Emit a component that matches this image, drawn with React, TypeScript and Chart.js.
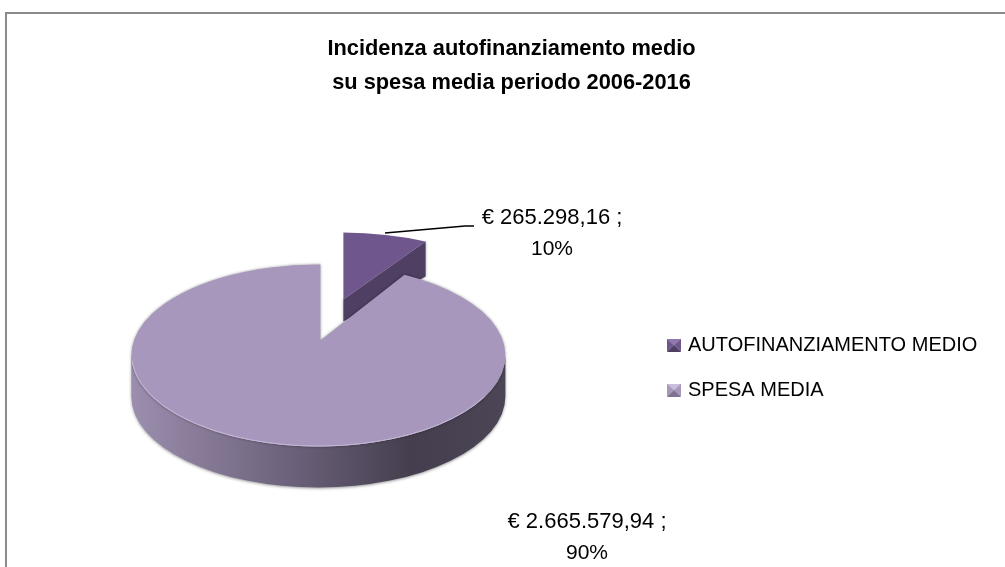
import React, { useEffect, useRef } from "react";
import { Chart, registerables } from "chart.js";

Chart.register(...registerables);

const categories = ["AUTOFINANZIAMENTO MEDIO", "SPESA MEDIA"];
const values = [265298.16, 2665579.94];
const valueLabels = ["€ 265.298,16 ;", "€ 2.665.579,94 ;"];
const percentLabels = ["10%", "90%"];
const titleLines = ["Incidenza autofinanziamento medio", "su spesa media periodo 2006-2016"];

const faceColors = ["#6f578e", "#a797bc"];
const FONT = "'Liberation Sans', Arial, sans-serif";

// projection of each slice of the tilted pie
const slices = [
  { dx: 23, dy: -41, ex: -2, ey: 13, rx: 182, ry: 80, k: 0.45, depthA: 22, depthB: 35 },
  { dx: 0, dy: 0, ex: -2, ey: 15, rx: 187, ry: 91, k: 0.5, depthA: 41, depthB: 41 },
];
const labelPositions = [
  { x: 552, y: 218 },
  { x: 587, y: 522 },
];

function marker(light: string, base: string, dark: string) {
  const c = document.createElement("canvas");
  c.width = 14;
  c.height = 13;
  const g = c.getContext("2d")!;
  const tri = (pts: number[], col: string) => {
    g.fillStyle = col;
    g.beginPath();
    g.moveTo(pts[0], pts[1]);
    g.lineTo(pts[2], pts[3]);
    g.lineTo(7, 6.5);
    g.closePath();
    g.fill();
  };
  tri([0, 0, 14, 0], light);
  tri([0, 0, 0, 13], base);
  tri([14, 0, 14, 13], base);
  tri([0, 13, 14, 13], dark);
  return c;
}

function rayPoint(a: { x: number; y: number }, c: { x: number; y: number }, s: any, theta: number) {
  const ux = Math.sin(theta);
  const uy = -s.k * Math.cos(theta);
  const fx = (a.x - c.x) / s.rx;
  const fy = (a.y - c.y) / s.ry;
  const gx = ux / s.rx;
  const gy = uy / s.ry;
  const A = gx * gx + gy * gy;
  const B = 2 * (fx * gx + fy * gy);
  const C = fx * fx + fy * fy - 1;
  const t = (-B + Math.sqrt(B * B - 4 * A * C)) / (2 * A);
  return { x: a.x + t * ux, y: a.y + t * uy };
}

const tiltedPie = {
  id: "tiltedPie",
  afterLayout(chart: any) {
    chart.titleBlock.left = 18;
    chart.titleBlock.right = 1005;
    chart.titleBlock.width = 987;
    const l = chart.legend;
    const w = l.right - l.left;
    l.left = 645;
    l.right = 645 + w;
    l.top += 84;
    l.bottom += 84;
  },
  beforeDraw(chart: any) {
    const ctx = chart.ctx;
    ctx.save();
    ctx.strokeStyle = "#8b8b8b";
    ctx.lineWidth = 2;
    ctx.beginPath();
    ctx.moveTo(6, 567);
    ctx.lineTo(6, 13);
    ctx.lineTo(1005, 13);
    ctx.stroke();
    ctx.restore();
  },
  beforeDatasetsDraw(chart: any) {
    const ctx = chart.ctx;
    const meta = chart.getDatasetMeta(0);
    meta.data.forEach((el: any, i: number) => {
      const s = slices[i];
      const a = { x: el.x + s.dx, y: el.y + s.dy };
      const c = { x: a.x + s.ex, y: a.y + s.ey };
      const th0 = el.startAngle + Math.PI / 2;
      const th1 = el.endAngle + Math.PI / 2;
      const p0 = rayPoint(a, c, s, th0);
      const p1 = rayPoint(a, c, s, th1);
      const t0 = Math.atan2((p0.y - c.y) / s.ry, (p0.x - c.x) / s.rx);
      const t1 = Math.atan2((p1.y - c.y) / s.ry, (p1.x - c.x) / s.rx);

      ctx.save();
      if (i === 0) {
        ctx.shadowColor = "rgba(0,0,0,0.35)";
        ctx.shadowBlur = 3;
        ctx.fillStyle = "#4f3f62";
        ctx.beginPath();
        ctx.moveTo(a.x, a.y);
        ctx.lineTo(p1.x, p1.y);
        ctx.lineTo(p1.x, p1.y + s.depthB);
        ctx.lineTo(a.x, a.y + s.depthA);
        ctx.closePath();
        ctx.fill();
      } else {
        const d = s.depthA;
        const grad = ctx.createLinearGradient(c.x - s.rx, 0, c.x + s.rx, 0);
        grad.addColorStop(0, "#9c8eae");
        grad.addColorStop(0.4, "#6f647e");
        grad.addColorStop(0.75, "#443e4e");
        grad.addColorStop(1, "#4b4556");
        ctx.shadowColor = "rgba(0,0,0,0.4)";
        ctx.shadowBlur = 3;
        ctx.shadowOffsetY = 1;
        ctx.fillStyle = grad;
        ctx.beginPath();
        ctx.ellipse(c.x, c.y + d, s.rx, s.ry, 0, 0, Math.PI);
        ctx.lineTo(c.x - s.rx, c.y);
        ctx.ellipse(c.x, c.y, s.rx, s.ry, 0, Math.PI, 0, true);
        ctx.closePath();
        ctx.fill();
      }
      ctx.restore();

      ctx.save();
      if (i === 1) {
        ctx.shadowColor = "rgba(0,0,0,0.4)";
        ctx.shadowBlur = 3;
      }
      ctx.fillStyle = el.options.backgroundColor;
      ctx.beginPath();
      ctx.moveTo(a.x, a.y);
      ctx.lineTo(p0.x, p0.y);
      ctx.ellipse(c.x, c.y, s.rx, s.ry, 0, t0, t1);
      ctx.closePath();
      ctx.fill();
      ctx.restore();

      if (i === 1) {
        ctx.save();
        ctx.strokeStyle = "#c4b8d6";
        ctx.lineWidth = 1;
        ctx.beginPath();
        ctx.ellipse(c.x, c.y - 0.5, s.rx - 0.5, s.ry, 0, Math.PI * 0.15, Math.PI * 0.98);
        ctx.stroke();
        ctx.restore();
      }
    });
    return false;
  },
  afterDraw(chart: any) {
    const ctx = chart.ctx;
    ctx.save();
    ctx.strokeStyle = "#000";
    ctx.lineWidth = 1.5;
    ctx.beginPath();
    ctx.moveTo(385, 233);
    ctx.lineTo(465, 226);
    ctx.lineTo(474, 226);
    ctx.stroke();
    ctx.fillStyle = "#000";
    ctx.textAlign = "center";
    ctx.textBaseline = "middle";
    labelPositions.forEach((p, i) => {
      ctx.font = `22px ${FONT}`;
      ctx.fillText(valueLabels[i], p.x, p.y);
      ctx.font = `21px ${FONT}`;
      ctx.fillText(percentLabels[i], p.x, p.y + 31);
    });
    ctx.restore();
  },
};

export default function App() {
  const ref = useRef<HTMLCanvasElement>(null);
  useEffect(() => {
    const markers = [
      marker("#8f78ad", "#6f578e", "#4f3f62"),
      marker("#c9bedb", "#a797bc", "#7f7291"),
    ];
    const chart = new Chart(ref.current!, {
      type: "pie",
      data: {
        labels: categories,
        datasets: [{ data: values, backgroundColor: faceColors, borderWidth: 0 }],
      },
      plugins: [tiltedPie],
      options: {
        animation: false,
        responsive: false,
        layout: { padding: { left: 0, right: 22, top: 0, bottom: 0 } },
        plugins: {
          tooltip: { enabled: false },
          title: {
            display: true,
            text: titleLines,
            color: "#000",
            font: { family: FONT, size: 21.8, weight: "bold", lineHeight: 1.56 },
            padding: { top: 32, bottom: 14 },
          },
          legend: {
            position: "right",
            labels: {
              usePointStyle: true,
              pointStyleWidth: 8,
              boxHeight: 13,
              padding: 25,
              color: "#000",
              font: { family: FONT, size: 20 },
              generateLabels: () =>
                categories.map((text, i) => ({
                  text,
                  pointStyle: markers[i],
                  fontColor: "#000",
                  lineWidth: 0,
                  index: i,
                })),
            },
          },
        },
      },
    } as any);
    return () => chart.destroy();
  }, []);
  return (
    <div style={{ position: "absolute", left: 0, top: 0, width: 1005, height: 567, background: "#fff" }}>
      <canvas ref={ref} width={1005} height={567} style={{ display: "block" }} />
    </div>
  );
}
